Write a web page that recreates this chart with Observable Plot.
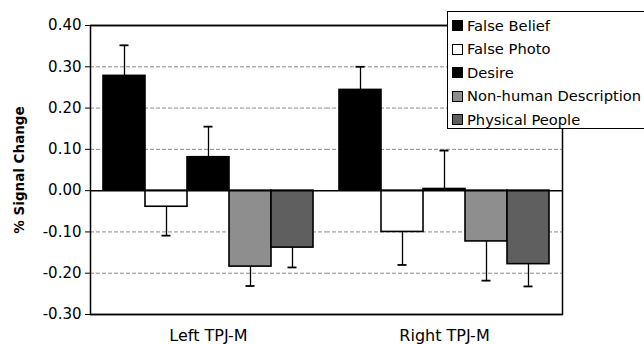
<!DOCTYPE html>
<html>
<head>
<meta charset="utf-8">
<script src="https://cdn.jsdelivr.net/npm/d3@7"></script>
<script src="https://cdn.jsdelivr.net/npm/@observablehq/plot@0.6"></script>
<style>
  html, body { margin: 0; padding: 0; background: #fff; }
  #wrap { position: relative; width: 644px; height: 344px; overflow: hidden; font-family: "DejaVu Sans", sans-serif; }
  #wrap svg { position: absolute; left: 0; top: 0; font-family: "DejaVu Sans", sans-serif; overflow: visible; }
  g[aria-label="y-axis label"] text { font-weight: bold; font-size: 13.5px; }
  #legend { position: absolute; left: 447px; top: 11px; width: 230px; height: 118px;
            border: 1px solid #000; background: #fff; padding-top: 1.5px; box-sizing: border-box; }
  .row { height: 23.5px; line-height: 23.5px; font-size: 14.7px; color: #000; white-space: nowrap; padding-left: 4px; }
  .sw { display: inline-block; width: 9px; height: 9px; border: 1px solid #000; vertical-align: middle; margin-right: 4px; position: relative; top: -1px; }
</style>
</head>
<body>
<div id="wrap"></div>
<script>
const groups = ["Left TPJ-M", "Right TPJ-M"];
const conditions = ["False Belief", "False Photo", "Desire", "Non-human Description", "Physical People"];
const leftMean  = [0.278, -0.039, 0.081, -0.184, -0.138];
const leftErr   = [0.074,  0.070, 0.074,  0.047,  0.048];
const rightMean = [0.244, -0.100, 0.004, -0.123, -0.178];
const rightErr  = [0.056,  0.080, 0.093,  0.095,  0.054];
const fills = ["#000000", "#ffffff", "#000000", "#8e8e8e", "#5f5f5f"];
const yTicks = [-0.3, -0.2, -0.1, 0, 0.1, 0.2, 0.3, 0.4];
const gridVals = [-0.2, -0.1, 0.1, 0.2, 0.3];

const means = [leftMean, rightMean];
const errs = [leftErr, rightErr];
const data = groups.flatMap((g, gi) => conditions.map((c, i) => {
  const m = means[gi][i];
  const s = m >= 0 ? 1 : -1;
  return {group: g, condition: c, mean: m, end: m + s * errs[gi][i]};
}));

const chart = Plot.plot({
  width: 644,
  height: 344,
  marginLeft: 89,
  marginRight: 82,
  marginTop: 25,
  marginBottom: 30,
  style: {fontFamily: "DejaVu Sans, sans-serif", color: "#000", background: "transparent", overflow: "visible"},
  fx: {domain: groups, padding: 0, label: null},
  x: {domain: conditions, paddingInner: 0, paddingOuter: 0.263, axis: null},
  y: {domain: [-0.3, 0.4]},
  color: {domain: conditions, range: fills},
  marks: [
    Plot.ruleY(gridVals, {stroke: "#8a8a8a", strokeWidth: 1, strokeDasharray: "4,2"}),
    Plot.ruleY([0.4, -0.3], {stroke: "#000", strokeWidth: 1.5}),
    Plot.frame({facet: "super", stroke: "#000", strokeWidth: 1.5}),
    Plot.ruleX(data, {fx: "group", x: "condition", y1: "mean", y2: "end", stroke: "#000", strokeWidth: 1.3}),
    Plot.tickY(data, {fx: "group", x: "condition", y: "end", stroke: "#000", strokeWidth: 1.8, insetLeft: 16.5, insetRight: 16.5}),
    Plot.barY(data, {fx: "group", x: "condition", y: "mean", fill: "condition", stroke: "#000", strokeWidth: 1.6}),
    Plot.ruleY([0], {stroke: "#000", strokeWidth: 1.5}),
    Plot.axisY({ticks: yTicks, tickFormat: d => d.toFixed(2), tickSize: 5, tickPadding: 4, fontSize: 15,
                label: "% Signal Change", labelAnchor: "center", labelArrow: "none", labelOffset: 76}),
    Plot.axisFx({anchor: "bottom", tickSize: 0, tickPadding: 15, fontSize: 16, label: null})
  ]
});
const wrap = document.getElementById("wrap");
wrap.appendChild(chart);

const legend = document.createElement("div");
legend.id = "legend";
conditions.forEach((c, i) => {
  const row = document.createElement("div");
  row.className = "row";
  const sw = document.createElement("span");
  sw.className = "sw";
  sw.style.background = fills[i];
  row.appendChild(sw);
  row.appendChild(document.createTextNode(c));
  legend.appendChild(row);
});
wrap.appendChild(legend);
</script>
</body>
</html>
